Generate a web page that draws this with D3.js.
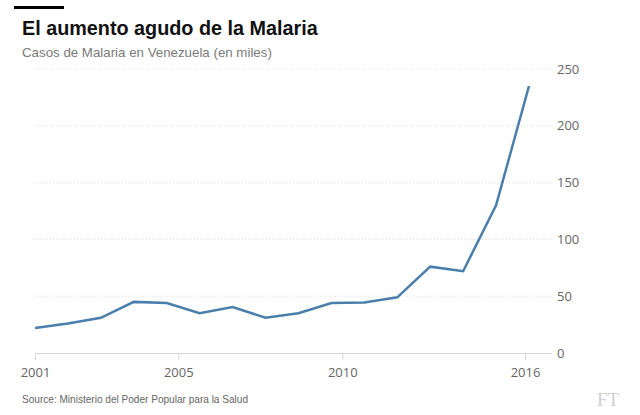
<!DOCTYPE html>
<html>
<head>
<meta charset="utf-8">
<script src="https://cdn.jsdelivr.net/npm/d3@7/dist/d3.min.js"></script>
<style>
  html, body { margin: 0; padding: 0; background: #fff; }
  svg { display: block; }
</style>
</head>
<body>
<svg id="chart" width="640" height="415"></svg>
<script>
const years = [2001, 2002, 2003, 2004, 2005, 2006, 2007, 2008, 2009, 2010, 2011, 2012, 2013, 2014, 2015, 2016];
const cases = [22, 26, 31, 45, 44, 35, 40.5, 31, 35, 44, 44.5, 49, 76, 72, 130, 235];
const yTicks = [0, 50, 100, 150, 200, 250];
const xTickLabels = ["2001", "2005", "2010", "2016"];
const xTickAt = [2001, 2005.35, 2010.33, 2015.88];

const svg = d3.select("#chart");

const x = d3.scaleLinear().domain([2001, 2016]).range([35, 529]);
const y = d3.scaleLinear().domain([0, 250]).range([353, 69]);
const xEnd = 552;

// header
svg.append("rect").attr("x", 14).attr("y", 6).attr("width", 50).attr("height", 3).attr("fill", "#000");
svg.append("text").attr("x", 22).attr("y", 35)
  .style("font-family", "'Liberation Sans', Arial, sans-serif")
  .style("font-weight", "bold").style("font-size", "19.8px").attr("fill", "#111")
  .text("El aumento agudo de la Malaria");
svg.append("text").attr("x", 22).attr("y", 57)
  .style("font-family", "'Liberation Sans', Arial, sans-serif")
  .style("font-size", "13.3px").attr("fill", "#7a7a7a")
  .text("Casos de Malaria en Venezuela (en miles)");

// gridlines
const grid = svg.append("g");
grid.selectAll("line").data(yTicks.filter(d => d > 0)).enter().append("line")
  .attr("x1", 35).attr("x2", xEnd)
  .attr("y1", d => y(d)).attr("y2", d => y(d))
  .attr("stroke", "#dcdcdc").attr("stroke-width", 1).attr("stroke-dasharray", "1,2");

// y axis (right)
const yAxis = d3.axisRight(y).tickValues(yTicks).tickSize(0).tickPadding(5);
const yg = svg.append("g").attr("transform", `translate(${xEnd},0)`).call(yAxis);
yg.select(".domain").remove();
yg.selectAll("text")
  .style("font-family", "'Open Sans', sans-serif").style("font-size", "13px").attr("fill", "#666");

// x axis
const xAxis = d3.axisBottom(x).tickValues(xTickAt).tickFormat((d, i) => xTickLabels[i])
  .tickSize(7).tickSizeOuter(0).tickPadding(8);
const xg = svg.append("g").attr("transform", `translate(0,${y(0)})`).call(xAxis);
xg.select(".domain").attr("d", `M${x(2001)},0.5H${xEnd}`).attr("stroke", "#d6d6d6");
xg.selectAll(".tick line").attr("stroke", "#d6d6d6");
xg.selectAll("text")
  .style("font-family", "'Open Sans', sans-serif").style("font-size", "13px").attr("fill", "#666");

// line
const line = d3.line().x((d, i) => x(years[i])).y(d => y(d));
svg.append("path").datum(cases).attr("d", line)
  .attr("fill", "none").attr("stroke", "#4a7eab").attr("stroke-width", 2.5)
  .attr("stroke-linejoin", "miter");

// source
svg.append("text").attr("x", 22).attr("y", 403)
  .style("font-family", "'Liberation Sans', Arial, sans-serif")
  .style("font-size", "11px").attr("fill", "#666")
  .attr("textLength", 226).attr("lengthAdjust", "spacingAndGlyphs")
  .text("Source: Ministerio del Poder Popular para la Salud");

// FT logo
svg.append("text").attr("x", 597).attr("y", 406)
  .style("font-family", "'Liberation Serif', 'DejaVu Serif', serif")
  .style("font-size", "19px").attr("fill", "#cfcfcf")
  .text("FT");
</script>
</body>
</html>
